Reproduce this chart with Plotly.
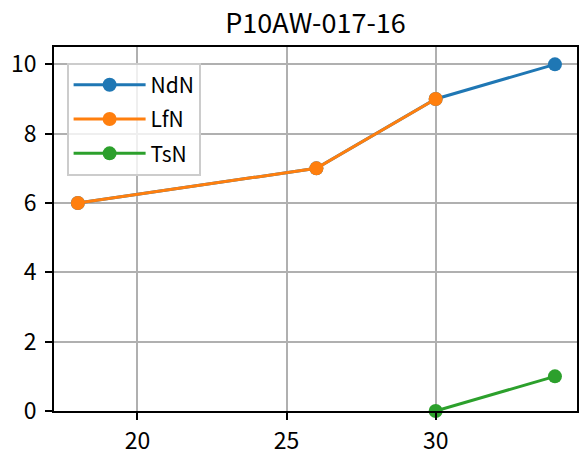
import plotly.graph_objects as go

x_ndn = [18, 26, 30, 34]
y_ndn = [6, 7, 9, 10]
x_lfn = [18, 26, 30]
y_lfn = [6, 7, 9]
x_tsn = [30, 34]
y_tsn = [0, 1]
series_names = ["NdN", "LfN", "TsN"]
colors = ["#1f77b4", "#ff7f0e", "#2ca02c"]
title_text = "P10AW-017-16"

FONT = "Noto Sans CJK JP"
fig = go.Figure()
for name, xs, ys, c in zip(series_names, [x_ndn, x_lfn, x_tsn], [y_ndn, y_lfn, y_tsn], colors):
    fig.add_trace(go.Scatter(x=xs, y=ys, name=name, mode="lines+markers",
                             legendgroup=name,
                             line=dict(color=c, width=3),
                             marker=dict(color=c, size=14),
                             cliponaxis=False))

axis_common = dict(showline=True, linecolor="black", linewidth=1.6, mirror=True,
                   showgrid=True, gridcolor="#b0b0b0", gridwidth=1.6,
                   ticks="outside", ticklen=7, tickwidth=1.6, tickcolor="black",
                   zeroline=False, automargin=False,
                   tickfont=dict(family=FONT, size=23, color="black"))

fig.update_layout(
    width=579, height=455,
    margin=dict(l=54, r=2, t=47, b=44),
    paper_bgcolor="white", plot_bgcolor="white",
    title=dict(text=title_text, x=(54 + 577) / 2 / 579, xanchor="center", y=1 - 24 / 455, yanchor="middle",
               font=dict(family=FONT, size=27, color="black")),
    xaxis=dict(range=[17.2, 34.74], tickvals=[20, 25, 30], ticklabelstandoff=2, **axis_common),
    yaxis=dict(range=[0, 10.5], tickvals=[0, 2, 4, 6, 8, 10], ticklabelstandoff=4, **axis_common),
    legend=dict(x=(67 - 54) / 523, y=(411 - 63) / 364, xanchor="left", yanchor="top",
                bgcolor="rgba(255,255,255,0.8)", bordercolor="#cccccc", borderwidth=1.6,
                font=dict(family=FONT, size=21, color="black"),
                itemwidth=72, tracegroupgap=4),
    showlegend=True,
)

fig.write_html("out.html", config={"displayModeBar": False},
               post_script="document.body.style.margin='0px';")
